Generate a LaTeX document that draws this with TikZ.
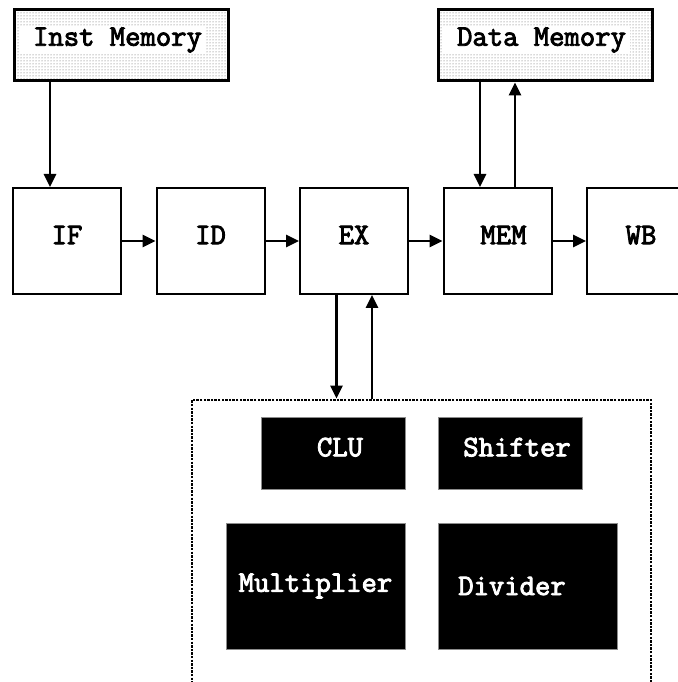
\documentclass[tikz,border=0pt]{standalone}
\usepackage{fontspec}
\setmonofont[AutoFakeBold=3]{Latin Modern Mono}
\usetikzlibrary{arrows.meta,positioning,patterns.meta}
\definecolor{dotgray}{RGB}{90,90,90}
\definecolor{unitedge}{RGB}{140,140,140}

\begin{document}
\begin{tikzpicture}[x=0.5pt, y=0.5pt,
  font=\ttfamily\bfseries\fontsize{14.9}{17}\selectfont,
  stagebox/.style={draw, line width=1pt, fill=white, minimum width=54pt, minimum height=53pt, text depth=6pt},
  membox/.style={draw, line width=1.5pt, pattern={Dots[distance=1.5pt, radius=0.25pt]}, pattern color=dotgray, minimum width=107pt, minimum height=35.5pt},
  memlabel/.style={fill=white, inner xsep=2pt, inner ysep=0pt, minimum height=13.5pt},
  smallunit/.style={draw=unitedge, line width=0.4pt, fill=black, text=white, minimum width=72pt, minimum height=36pt, text depth=6pt},
  bigunit/.style={draw=unitedge, line width=0.4pt, fill=black, text=white, minimum width=89.5pt, minimum height=63pt},
  aluframe/.style={draw, line width=1.4pt, dash pattern=on 1.2pt off 0.6pt, minimum width=229.5pt, minimum height=160pt},
  flow/.style={-{Triangle[length=6.5pt, width=6pt]}, line width=1.4pt}
]
  \useasboundingbox (0,0) rectangle (678,682);
  \clip (0,0) rectangle (678,682);
  % MEMORIES - top row
  \node[membox] (imem) at (121,636.5) {};
  \node[memlabel] (imemtxt) at ([xshift=-4.25pt, yshift=2.75pt]imem.center) {\hspace*{5pt}Inst Memory};
  \node[membox] (dmem) at (545,636.5) {};
  \node[memlabel] (dmemtxt) at ([xshift=-4.25pt, yshift=2.75pt]dmem.center) {\hspace*{5pt}Data Memory};
  % PIPELINE STAGES
  \node[stagebox] (ifst) at (67,441) {IF};
  \node[stagebox, right=16.75pt of ifst] (idst) {ID};
  \node[stagebox, right=16.75pt of idst] (exst) {EX};
  \node[stagebox, right=16.75pt of exst] (memst) {\hspace*{6pt}MEM};
  \node[stagebox, right=16.75pt of memst] (wbst) {WB};
  % EXECUTION UNITS - bottom
  \node[aluframe] (alubox) at (421.5,122) {};
  \node[smallunit] (clu) at (333.5,229) {\hspace*{6.5pt}CLU};
  \node[smallunit] (shifter) at (510.5,229) {\hspace*{6.5pt}Shifter};
  \node[bigunit] (mult) at (315.5,96) {Multiplier};
  \node[bigunit] (divider) at (527.5,96) {Divider\hspace*{15.5pt}};
  % CONNECTIONS
  \draw[flow] ([xshift=-8.5pt]ifst.north |- imem.south) -- ([xshift=-8.5pt]ifst.north);
  \draw[flow] (ifst.east) -- (idst.west);
  \draw[flow] (idst.east) -- (exst.west);
  \draw[flow] (exst.east) -- (memst.west);
  \draw[flow] (memst.east) -- (wbst.west);
  \draw[flow] ([xshift=-8.75pt]memst.north |- dmem.south) -- ([xshift=-8.75pt]memst.north);
  \draw[flow] ([xshift=8.75pt]memst.north) -- ([xshift=8.75pt]memst.north |- dmem.south);
  \draw[flow] ([xshift=-8.75pt]exst.south) -- ([xshift=-8.75pt]exst.south |- alubox.north);
  \draw[flow] ([xshift=9pt]exst.south |- alubox.north) -- ([xshift=9pt]exst.south);
\end{tikzpicture}
\end{document}
